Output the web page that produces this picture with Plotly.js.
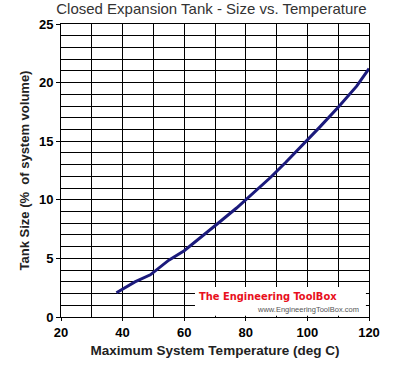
<!DOCTYPE html>
<html>
<head>
<meta charset="utf-8">
<script src="https://cdn.plot.ly/plotly-3.0.1.min.js"></script>
<style>html,body{margin:0;padding:0;background:#fff;}#chart{width:399px;height:376px;}</style>
</head>
<body>
<div id="chart"></div>
<script>
const temperature = [38, 44, 49, 55, 60, 66, 71, 77, 82, 88, 93, 99, 104, 110, 116, 120];
const tankSize = [2.07, 3.0, 3.6, 4.85, 5.65, 6.9, 8.0, 9.3, 10.5, 11.9, 13.2, 14.8, 16.2, 17.9, 19.7, 21.2];
const xTicks = [20, 40, 60, 80, 100, 120];
const yTicks = [0, 5, 10, 15, 20, 25];

const trace = {
  x: temperature, y: tankSize, type: 'scatter', mode: 'lines',
  line: {color: '#1b1a7c', width: 3}, hoverinfo: 'skip'
};
const tickFont = {family: 'Liberation Sans, Arial, sans-serif', size: 13, color: '#000', weight: 'bold'};
const layout = {
  width: 399, height: 376,
  margin: {l: 61, r: 30, t: 24, b: 59},
  paper_bgcolor: '#fff', plot_bgcolor: '#fff',
  showlegend: false,
  title: {text: 'Closed Expansion Tank - Size vs. Temperature', x: 0.53, xanchor: 'center', y: 0.978, yanchor: 'middle',
          font: {family: 'Liberation Sans, Arial, sans-serif', size: 15, color: '#333'}},
  xaxis: {range: [20, 120], tickvals: xTicks, ticktext: xTicks.map(String),
          showgrid: true, gridcolor: '#000', gridwidth: 1,
          minor: {dtick: 10, showgrid: true, gridcolor: '#000', gridwidth: 1},
          showline: true, linecolor: '#000', linewidth: 1, mirror: true,
          ticks: 'outside', ticklen: 3, tickcolor: '#000', tickfont: tickFont, zeroline: false,
          title: {text: 'Maximum System Temperature (deg C)', standoff: 6,
                  font: {family: 'Liberation Sans, Arial, sans-serif', size: 13.5, color: '#222', weight: 'bold'}}},
  yaxis: {range: [0, 25], tickvals: yTicks, ticktext: yTicks.map(String),
          showgrid: true, gridcolor: '#000', gridwidth: 1,
          minor: {dtick: 1, showgrid: true, gridcolor: '#000', gridwidth: 1},
          showline: true, linecolor: '#000', linewidth: 1, mirror: true,
          ticks: 'outside', ticklen: 4, tickcolor: '#000', tickfont: tickFont, zeroline: false,
          title: {text: 'Tank Size (% &nbsp;of system volume)', standoff: 6,
                  font: {family: 'Liberation Sans, Arial, sans-serif', size: 13, color: '#222', weight: 'bold'}}},
  shapes: [{type: 'rect', xref: 'paper', yref: 'paper', x0: 0.435, x1: 0.99, y0: 0.004, y1: 0.102,
            fillcolor: '#fff', line: {width: 0}, layer: 'above'}],
  annotations: [
    {text: 'The Engineering ToolBox', xref: 'paper', yref: 'paper', x: 0.44, y: 0.07, xanchor: 'left', yanchor: 'middle',
     showarrow: false, font: {family: 'DejaVu Sans Condensed, DejaVu Sans, sans-serif', stretch: 'condensed', size: 11, color: '#e8101c', weight: 'bold'}},
    {text: 'www.EngineeringToolBox.com', xref: 'paper', yref: 'paper', x: 0.975, y: 0.024, xanchor: 'right', yanchor: 'middle',
     showarrow: false, font: {family: 'Liberation Sans, Arial, sans-serif', size: 7.5, color: '#555'}}
  ]
};
Plotly.newPlot('chart', [trace], layout, {displayModeBar: false, staticPlot: true});
</script>
</body>
</html>
